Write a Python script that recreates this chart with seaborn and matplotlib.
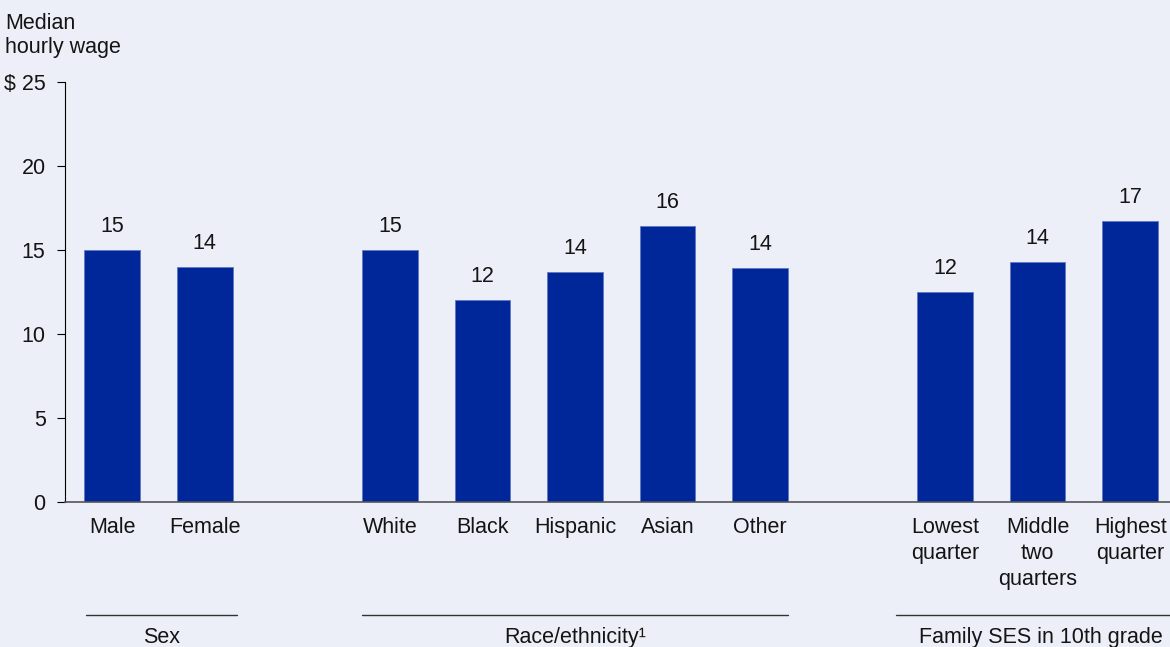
import matplotlib
matplotlib.use("Agg")
import matplotlib.pyplot as plt
import matplotlib.transforms as mtransforms
import pandas as pd
import seaborn as sns

# Median hourly wage by group
groups = ["Sex", "Race/ethnicity¹", "Family SES in 10th grade"]
sex_categories = ["Male", "Female"]
sex_wages = [15.0, 14.0]
race_categories = ["White", "Black", "Hispanic", "Asian", "Other"]
race_wages = [15.0, 12.0, 13.7, 16.4, 13.9]
ses_categories = ["Lowest\nquarter", "Middle\ntwo\nquarters", "Highest\nquarter"]
ses_wages = [12.5, 14.3, 16.7]
y_ticks = [0, 5, 10, 15, 20, 25]
y_tick_labels = ["0", "5", "10", "15", "20", "$ 25"]

BG = "#EDEFF8"
BAR = "#00279A"
INK = "#141414"
FS = 15.5

sns.set_theme(style="white")
plt.rcParams["font.family"] = ["Liberation Sans", "DejaVu Sans"]
plt.rcParams["font.size"] = FS

# Lay the groups out left to right, leaving one empty slot between groups
rows = []
slot = 0
for group, cats, vals in zip(groups,
                             [sex_categories, race_categories, ses_categories],
                             [sex_wages, race_wages, ses_wages]):
    for cat, val in zip(cats, vals):
        rows.append({"group": group, "category": cat, "wage": val, "slot": slot})
        slot += 1
    slot += 1
df = pd.DataFrame(rows)

W, H = 1170, 647
fig = plt.figure(figsize=(W / 100, H / 100), dpi=100, facecolor=BG)
ax = fig.add_axes([65 / W, 1 - 502 / H, 1 - 65 / W, (502 - 82) / H])
ax.set_facecolor(BG)

sns.barplot(data=df, x="slot", y="wage", native_scale=True, width=0.6,
            color=BAR, saturation=1, edgecolor="#6378c4", linewidth=0.6,
            errorbar=None, ax=ax)

for _, r in df.iterrows():
    ax.annotate(f"{r['wage']:.0f}", (r["slot"], r["wage"]),
                xytext=(0, 9.5), textcoords="offset points",
                ha="center", va="bottom", fontsize=FS, color=INK)

ax.set_xlim(-0.51, 11.43)
ax.set_ylim(0, 25)
ax.set_xticks(df["slot"])
ax.set_xticklabels(df["category"], color=INK, fontsize=FS, linespacing=1.3)
ax.set_yticks(y_ticks)
ax.set_yticklabels(y_tick_labels, color=INK, fontsize=FS)
ax.tick_params(axis="x", length=0, pad=11)
ax.tick_params(axis="y", length=6, width=0.8, color="black", pad=8, left=True)
ax.set_xlabel("")
ax.set_ylabel("")
ax.grid(False)

for side in ["top", "right"]:
    ax.spines[side].set_visible(False)
ax.spines["left"].set_color("black")
ax.spines["left"].set_linewidth(0.8)
ax.spines["bottom"].set_color("#555555")
ax.spines["bottom"].set_linewidth(1.2)

# Group brackets beneath the category labels
trans = mtransforms.blended_transform_factory(ax.transData, fig.transFigure)
group_spans = [(-0.28, 1.35), (2.70, 7.30), (8.47, 11.59)]
for name, (x0, x1) in zip(groups, group_spans):
    ax.plot([x0, x1], [1 - 615 / H, 1 - 615 / H], transform=trans,
            color="#333333", lw=1.0, clip_on=False)
    ax.text((x0 + x1) / 2, 4 / H, name, transform=trans, ha="center",
            va="baseline", fontsize=FS, color=INK)

fig.text(5 / W, 1 - 13 / H, "Median\nhourly wage", ha="left", va="top",
         fontsize=FS, color=INK)

fig.savefig("out.png", dpi=100, facecolor=BG)
